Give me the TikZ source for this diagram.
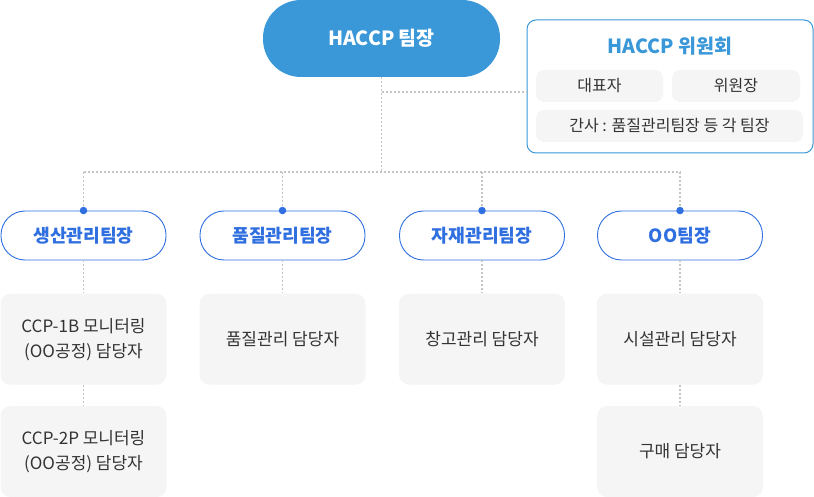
\documentclass[tikz,border=0pt]{standalone}
\usepackage{fontspec}
\setmainfont{Noto Sans CJK KR}
\usetikzlibrary{positioning}

\definecolor{haccpblue}{HTML}{3A98D8}
\definecolor{teamblue}{HTML}{2F6FE0}
\definecolor{boxgray}{HTML}{F5F5F5}
\definecolor{textgray}{HTML}{333333}
\definecolor{linegray}{HTML}{C4C4C4}

\tikzset{
  head/.style={fill=haccpblue, text=white, font=\fontsize{19.5}{22}\selectfont\bfseries,
    minimum width=237pt, minimum height=77pt, rounded corners=38pt},
  board/.style={draw=haccpblue, line width=1pt, fill=white, rounded corners=9pt,
    minimum width=286pt, minimum height=133pt},
  boardtitle/.style={text=haccpblue, font=\fontsize{19.5}{22}\selectfont\bfseries},
  member/.style={fill=boxgray, text=textgray, rounded corners=8pt,
    font=\fontsize{16}{19}\selectfont, minimum height=32pt},
  team/.style={draw=teamblue, line width=0.9pt, fill=white, text=teamblue,
    font=\fontsize{18.2}{21}\selectfont\bfseries,
    minimum width=165pt, minimum height=49pt, rounded corners=24pt},
  duty/.style={fill=boxgray, text=textgray, rounded corners=10pt, align=center,
    font=\fontsize{17}{25}\selectfont, minimum width=166pt, minimum height=91pt},
  link/.style={draw=linegray, line width=1.5pt, dash pattern=on 2pt off 2pt},
  hub/.style={circle, fill=teamblue, inner sep=0pt, minimum size=7.5pt},
}

\begin{document}
\begin{tikzpicture}[x=1pt, y=-1pt]
  \useasboundingbox (0,0) rectangle (814,497);

  %Define nodes
  \node[head] (leader) at (381.5,38.5) {HACCP 팀장};
  \node[board] (board) at (670,86.5) {};
  \node[boardtitle] (board_title) at (670,46) {HACCP 위원회};
  \node[member, minimum width=127pt] (ceo) at (599.5,86) {대표자};
  \node[member, minimum width=128pt] (chair) at (736,86) {위원장};
  \node[member, minimum width=267pt] (secretary) at (669.5,126) {간사 : 품질관리팀장 등 각 팀장};

  \node[team] (production) at (83.5,235.5) {생산관리팀장};
  \node[team] (quality) at (282.5,235.5) {품질관리팀장};
  \node[team] (material) at (482,235.5) {자재관리팀장};
  \node[team] (oo) at (680,235.5) {OO팀장};

  \node[duty, below=33pt of production] (ccp1) {CCP-1B 모니터링\\(OO공정) 담당자};
  \node[duty, below=21pt of ccp1] (ccp2) {CCP-2P 모니터링\\(OO공정) 담당자};
  \node[duty, below=33pt of quality] (qc) {품질관리 담당자};
  \node[duty, below=33pt of material] (storage) {창고관리 담당자};
  \node[duty, below=33pt of oo] (facility) {시설관리 담당자};
  \node[duty, below=21pt of facility] (purchase) {구매 담당자};

  \coordinate (bus) at (381.5,172);
  \coordinate (branch) at (381.5,92);

  % Connect the nodes
  \draw[link] (leader.south) -- (bus);
  \draw[link] (branch) -- (branch -| board.west);
  \draw[link] (production.north |- bus) -- (oo.north |- bus);
  \foreach \t in {production, quality, material, oo} {
    \draw[link] (\t.north |- bus) -- (\t.north);
    \draw[link] (\t.south) -- (\t.south |- 0,293);
    \node[hub] at (\t.north) {};
  }
  \draw[link] (ccp1.south) -- (ccp2.north);
  \draw[link] (facility.south) -- (purchase.north);

\end{tikzpicture}
\end{document}
